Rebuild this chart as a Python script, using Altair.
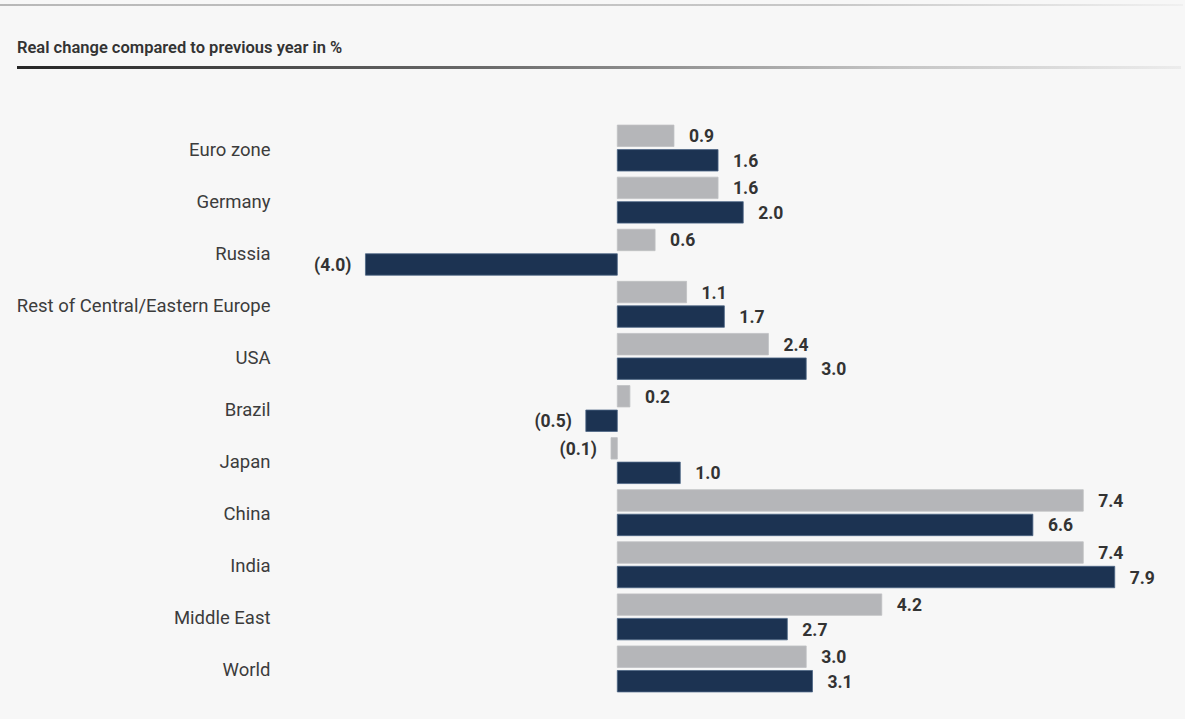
import altair as alt
import pandas as pd

# Regions, top to bottom
categories = [
    "Euro zone", "Germany", "Russia", "Rest of Central/Eastern Europe", "USA",
    "Brazil", "Japan", "China", "India", "Middle East", "World",
]
# Real change compared to previous year, in %
prior_year = [0.9, 1.6, 0.6, 1.1, 2.4, 0.2, -0.1, 7.4, 7.4, 4.2, 3.0]
current_year = [1.6, 2.0, -4.0, 1.7, 3.0, -0.5, 1.0, 6.6, 7.9, 2.7, 3.1]
series_names = ["prior", "current"]
series_colors = ["#b5b6b9", "#1c3352"]


def fmt(v):
    return f"({abs(v):.1f})" if v < 0 else f"{v:.1f}"


rows = []
for cat, a, b in zip(categories, prior_year, current_year):
    rows.append({"category": cat, "series": "prior", "value": a, "label": fmt(a)})
    rows.append({"category": cat, "series": "current", "value": b, "label": fmt(b)})
df = pd.DataFrame(rows)

FONT = "Roboto"

y_enc = alt.Y(
    "category:N", sort=categories, title=None,
    scale=alt.Scale(paddingInner=0, paddingOuter=0),
    axis=alt.Axis(domain=False, ticks=False, labelPadding=1, labelFontSize=18.5,
                  labelFont=FONT, labelColor="#3c3c3c", labelLimit=400,
                  labelOffset=1.5),
)
y_off = alt.YOffset("series:N", sort=series_names,
                    scale=alt.Scale(paddingInner=0.125, paddingOuter=0.125))
x_enc = alt.X("value:Q", scale=alt.Scale(domain=[-5.5, 9.0]), axis=None, title=None)

base = alt.Chart(df).encode(y=y_enc, yOffset=y_off)

bars = base.mark_bar(strokeWidth=0.8).encode(
    x=x_enc,
    x2=alt.datum(0),
    color=alt.Color("series:N", scale=alt.Scale(domain=series_names, range=series_colors),
                    legend=None),
    stroke=alt.Stroke("series:N", scale=alt.Scale(domain=series_names,
                                                  range=["#bfc0c3", "#4d6685"]),
                      legend=None),
)

label_style = dict(font=FONT, fontSize=17.5, fontWeight="bold", color="#333333",
                   baseline="middle", dy=1.5)
pos_labels = base.transform_filter("datum.value >= 0").mark_text(
    align="left", dx=15, **label_style
).encode(x=x_enc, text="label:N")
neg_labels = base.transform_filter("datum.value < 0").mark_text(
    align="right", dx=-14, **label_style
).encode(x=x_enc, text="label:N")

one = pd.DataFrame({"k": [0]})

top_rule = alt.Chart(one).mark_rect(
    color=alt.Gradient(gradient="linear", x1=0, x2=1, y1=0, y2=0,
                       stops=[alt.GradientStop(color="#b8b8b8", offset=0),
                              alt.GradientStop(color="#c8c8c8", offset=0.7),
                              alt.GradientStop(color="#f0f0f0", offset=1)])
).encode(x=alt.value(-271), x2=alt.value(912), y=alt.value(-118), y2=alt.value(-116))

title_text = alt.Chart(one).mark_text(
    text="Real change compared to previous year in %", align="left", baseline="middle",
    font=FONT, fontSize=16.5, fontWeight=600, color="#333333",
).encode(x=alt.value(-254), y=alt.value(-74))

title_rule = alt.Chart(one).mark_rect(
    color=alt.Gradient(gradient="linear", x1=0, x2=1, y1=0, y2=0,
                       stops=[alt.GradientStop(color="#262626", offset=0),
                              alt.GradientStop(color="#6a6a6a", offset=0.4),
                              alt.GradientStop(color="#c4c4c4", offset=0.75),
                              alt.GradientStop(color="#ececec", offset=1)])
).encode(x=alt.value(-254), x2=alt.value(910), y=alt.value(-56), y2=alt.value(-53))

right_edge = alt.Chart(one).mark_rect(color="#ffffff").encode(
    x=alt.value(914), x2=alt.value(920), y=alt.value(-122), y2=alt.value(600)
)

chart = alt.layer(
    top_rule, title_text, title_rule, bars, pos_labels, neg_labels, right_edge
).properties(
    width=913, height=573,
    autosize=alt.AutoSizeParams(type="none"),
    padding={"left": 271, "top": 122, "right": 5, "bottom": 24},
    background="#f7f7f7",
).configure_view(strokeWidth=0)

chart.save("out.html", embed_options={"renderer": "svg", "actions": False})
